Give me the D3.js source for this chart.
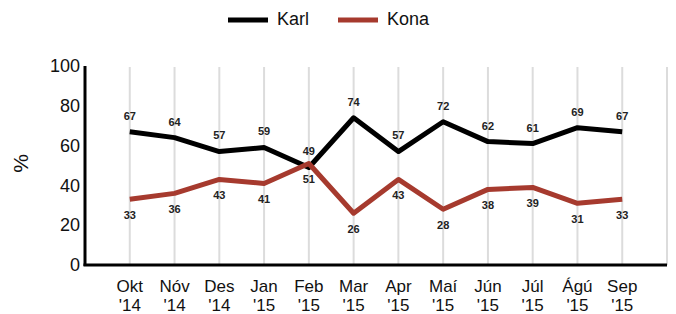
<!DOCTYPE html>
<html>
<head>
<meta charset="utf-8">
<script src="https://cdn.jsdelivr.net/npm/d3@7"></script>
<style>
  html, body { margin: 0; padding: 0; background: #fff; }
  svg { display: block; font-family: "Liberation Sans", Arial, sans-serif; }
</style>
</head>
<body>
<div id="chart"></div>
<script>
// month labels (two lines each)
const months = ['Okt', 'Nóv', 'Des', 'Jan', 'Feb', 'Mar', 'Apr', 'Maí', 'Jún', 'Júl', 'Ágú', 'Sep'];
const years = ["'14", "'14", "'14", "'15", "'15", "'15", "'15", "'15", "'15", "'15", "'15", "'15"];
const karl = [67, 64, 57, 59, 49, 74, 57, 72, 62, 61, 69, 67];
const kona = [33, 36, 43, 41, 51, 26, 43, 28, 38, 39, 31, 33];
const yTicks = [0, 20, 40, 60, 80, 100];

const series = [
  { name: 'Karl', values: karl, color: '#000000', labelDy: -15 },
  { name: 'Kona', values: kona, color: '#a63a2e', labelDy: 17 },
];

const W = 676, H = 314;
const M = { top: 66, right: 8, bottom: 49, left: 85 };
const innerW = W - M.left - M.right, innerH = H - M.top - M.bottom;

const svg = d3.select('#chart').append('svg').attr('width', W).attr('height', H);
const g = svg.append('g').attr('transform', `translate(${M.left},${M.top})`);

// positions 1..12 for months, 13 is an empty trailing slot
const x = d3.scaleLinear().domain([0, 13]).range([0, 582]);
const y = d3.scaleLinear().domain([0, 100]).range([innerH, 0]);

// vertical gridlines
g.append('g').selectAll('line').data(d3.range(1, 14)).join('line')
  .attr('x1', d => x(d)).attr('x2', d => x(d))
  .attr('y1', 1).attr('y2', innerH)
  .attr('stroke', '#dcdcdc').attr('stroke-width', 2);

// y axis
const yAx = g.append('g').call(d3.axisLeft(y).tickValues(yTicks).tickSize(0).tickPadding(5));
yAx.select('.domain').remove();
yAx.selectAll('text')
  .style('font-family', '"Liberation Sans", Arial, sans-serif')
  .style('font-size', '18px').attr('fill', '#111');

g.append('line').attr('x1', 0).attr('x2', 0).attr('y1', 0).attr('y2', innerH + 1)
  .attr('stroke', '#000').attr('stroke-width', 3);
g.append('line').attr('x1', -1.5).attr('x2', x(13)).attr('y1', innerH).attr('y2', innerH)
  .attr('stroke', '#000').attr('stroke-width', 3);

svg.append('text')
  .attr('transform', `translate(28,${M.top + innerH / 2 - 2}) rotate(-90)`)
  .attr('text-anchor', 'middle')
  .style('font-size', '21px').attr('fill', '#111')
  .text('%');

// x labels
const xl = g.append('g').selectAll('text').data(months).join('text')
  .attr('x', (d, i) => x(i + 1)).attr('y', innerH + 27)
  .attr('text-anchor', 'middle')
  .style('font-size', '17px').attr('fill', '#111');
xl.append('tspan').attr('x', (d, i) => x(i + 1)).text(d => d);
xl.append('tspan').attr('x', (d, i) => x(i + 1)).attr('dy', 19).text((d, i) => years[i]);

// lines
const line = d3.line().x((d, i) => x(i + 1)).y(d => y(d));
series.forEach(s => {
  g.append('path').datum(s.values)
    .attr('d', line)
    .attr('fill', 'none')
    .attr('stroke', s.color).attr('stroke-width', 5)
    .attr('stroke-linejoin', 'round');
});

// value labels
series.forEach(s => {
  g.append('g').selectAll('text').data(s.values).join('text')
    .attr('x', (d, i) => x(i + 1)).attr('y', d => y(d) + s.labelDy)
    .attr('text-anchor', 'middle').attr('dominant-baseline', 'middle')
    .style('font-size', '11px').style('font-weight', 'bold').attr('fill', '#222')
    .text(d => d);
});

// legend
const leg = svg.append('g').attr('transform', 'translate(228,20)');
series.forEach((s, i) => {
  const lg = leg.append('g').attr('transform', `translate(${i * 110},0)`);
  lg.append('line').attr('x1', 0).attr('x2', 40).attr('y1', 0).attr('y2', 0)
    .attr('stroke', s.color).attr('stroke-width', 5);
  lg.append('text').attr('x', 49).attr('y', 0).attr('dominant-baseline', 'middle')
    .style('font-size', '18px').attr('fill', '#111').text(s.name);
});
</script>
</body>
</html>
